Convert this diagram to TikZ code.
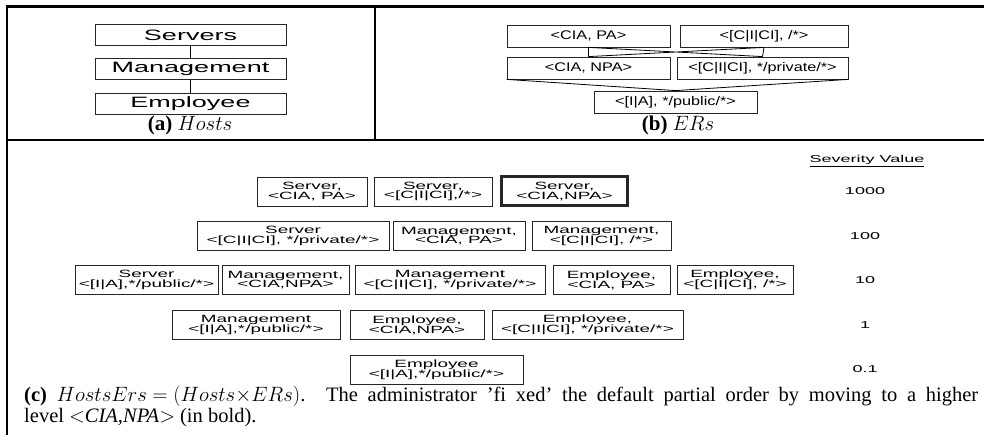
\documentclass[tikz,border=0pt]{standalone}
\usepackage{fontspec}
\setmainfont{Liberation Serif}
\newfontfamily\boxfont[FakeStretch=1.8]{Liberation Sans}
\newfontfamily\erfont[FakeStretch=1.3]{Liberation Sans}
\usepackage{tikz}

\begin{document}
\begin{tikzpicture}[x=1pt, y=-1pt,
      hostbox/.style={rectangle, draw=black!85, line width=0.8pt, minimum width=191, minimum height=21, inner sep=0pt, font=\boxfont\fontsize{15}{15}\selectfont},
      erbox/.style={rectangle, draw=black!85, line width=0.8pt, minimum height=22, inner sep=0pt, font=\erfont\fontsize{12.5}{12.5}\selectfont},
      pairbox/.style={rectangle, draw=black!85, line width=0.8pt, minimum height=29, inner sep=0pt, align=center, font=\boxfont\fontsize{10.5}{9.8}\selectfont},
      sev/.style={font=\boxfont\fontsize{10}{10}\selectfont},
      framerule/.style={line width=2.5pt},
      captext/.style={anchor=base, font=\fontsize{21}{21}\selectfont}
      ]
      \useasboundingbox (0,0) rectangle (984,435);
      \draw[framerule] (6,6.5) -- (984,6.5);
      \draw[framerule] (7,5) -- (7,435);
      \draw[framerule] (7,140) -- (984,140);
      \draw[line width=2pt] (375,6) -- (375,140);

      \node[hostbox] (servers) at (190.5,35) {Servers};
      \node[hostbox] (mgmt) at (190.5,69) {Management};
      \node[hostbox] (empl) at (190.5,104) {Employee};
      \draw[line width=0.8pt] (servers) -- (mgmt) (mgmt) -- (empl);
      \node[captext] (capa) at (190,131) {\textbf{(a)} $Hosts$};

      \node[erbox, minimum width=163] (cpa) at (588.5,36) {<CIA, PA>};
      \node[erbox, minimum width=168] (cstar) at (764,36) {<[C|I|CI], /*>};
      \node[erbox, minimum width=163] (cnpa) at (588.5,68) {<CIA, NPA>};
      \node[erbox, minimum width=171] (cpriv) at (762.5,68) {<[C|I|CI], */private/*>};
      \node[erbox, minimum width=163] (pub) at (675.5,102) {<[I|A], */public/*>};
      \draw[line width=0.8pt] (cpa.south) -- (cnpa.north) (cpa.south) -- (cpriv.north)
        (cstar.south) -- (cpriv.north) (cstar.south) -- (cnpa.north);
      \draw[line width=0.8pt] (cnpa.south west) -- (pub.north) -- (cpriv.south east);
      \node[captext] (capb) at (678,131) {\textbf{(b)} $ERs$};

      \node[pairbox, minimum width=110] (sa) at (312,191.5) {Server,\\<CIA, PA>};
      \node[pairbox, minimum width=118] (sb) at (433,191.5) {Server,\\<[C|I|CI],/*>};
      \node[pairbox, minimum width=126, line width=3pt] (sc) at (564.5,191.5) {Server,\\<CIA,NPA>};

      \node[pairbox, minimum width=192] (sd) at (293,236) {Server\\<[C|I|CI], */private/*>};
      \node[pairbox, minimum width=132] (ma) at (459,236) {Management,\\<CIA, PA>};
      \node[pairbox, minimum width=139] (mb) at (601.5,236) {Management,\\<[C|I|CI], /*>};

      \node[pairbox, minimum width=143] (se) at (146.5,280) {Server\\<[I|A],*/public/*>};
      \node[pairbox, minimum width=127] (mc) at (285.5,280) {Management,\\<CIA,NPA>};
      \node[pairbox, minimum width=190] (md) at (450,280) {Management\\<[C|I|CI], */private/*>};
      \node[pairbox, minimum width=117] (ea) at (611.5,280) {Employee,\\<CIA, PA>};
      \node[pairbox, minimum width=116] (eb) at (735,280) {Employee,\\<[C|I|CI], /*>};

      \node[pairbox, minimum width=168] (me) at (256,325) {Management\\<[I|A],*/public/*>};
      \node[pairbox, minimum width=134] (ec) at (417,325) {Employee,\\<CIA,NPA>};
      \node[pairbox, minimum width=191] (ed) at (587.5,325) {Employee,\\<[C|I|CI], */private/*>};

      \node[pairbox, minimum width=173] (ee) at (436.5,370) {Employee\\<[I|A],*/public/*>};

      \node[sev] (sevhead) at (867,161) {\underline{Severity Value}};
      \node[sev] (sev1000) at (865,191.5) {1000};
      \node[sev] (sev100) at (865,236) {100};
      \node[sev] (sev10) at (865,280) {10};
      \node[sev] (sev1) at (865,325) {1};
      \node[sev] (sevpt) at (865,369) {0.1};

      \node[anchor=north west, text width=954, inner sep=0pt, align=justify, font=\fontsize{20.5}{21}\selectfont] (capc) at (24,386)
        {\thickmuskip=5mu \textbf{(c)} $HostsErs = (Hosts{\times}ERs)$. The administrator ’fi xed’ the default partial order by moving to a higher\linebreak
        level $<$\textit{CIA,NPA}$>$ (in bold).};
    \end{tikzpicture}
\end{document}
